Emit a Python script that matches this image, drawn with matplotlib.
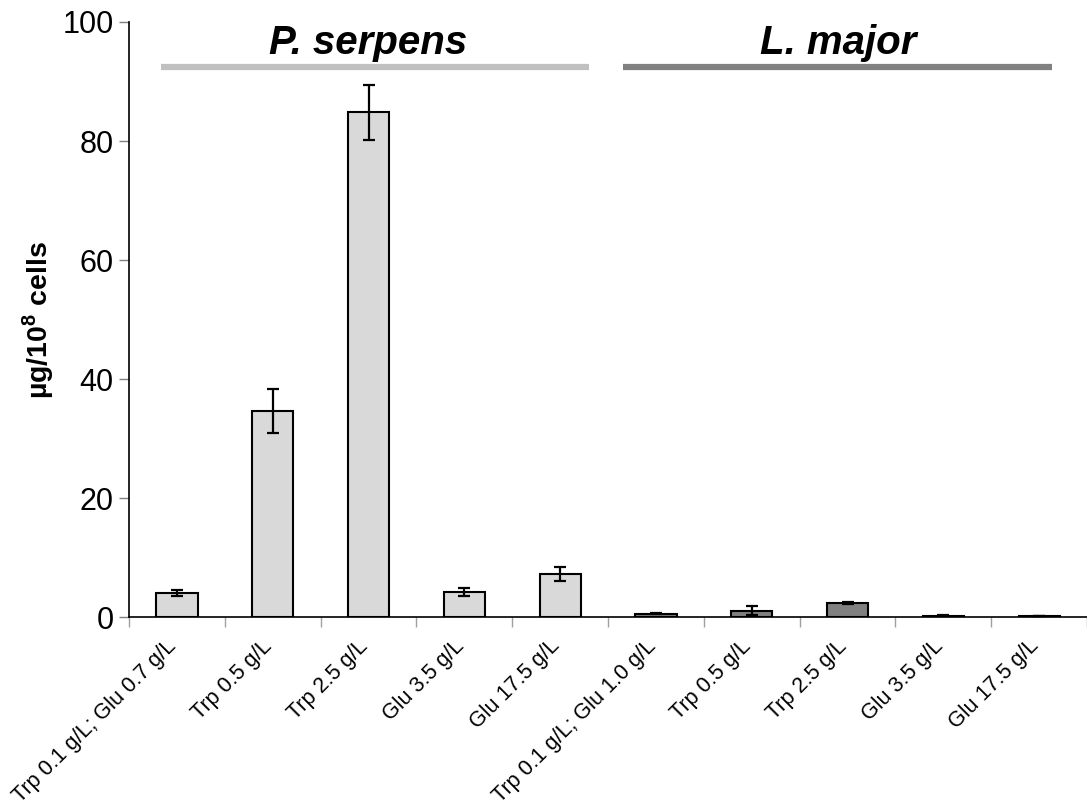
import matplotlib
matplotlib.use("Agg")
import matplotlib.pyplot as plt
import matplotlib.transforms as mtransforms
import numpy as np

plt.rcParams['font.family'] = ['Liberation Sans', 'DejaVu Sans']
plt.rcParams['mathtext.fontset'] = 'custom'
plt.rcParams['mathtext.rm'] = 'Liberation Sans'
plt.rcParams['mathtext.bf'] = 'Liberation Sans:bold'

# data
labels = ["Trp 0.1 g/L; Glu 0.7 g/L", "Trp 0.5 g/L", "Trp 2.5 g/L", "Glu 3.5 g/L", "Glu 17.5 g/L",
          "Trp 0.1 g/L; Glu 1.0 g/L", "Trp 0.5 g/L", "Trp 2.5 g/L", "Glu 3.5 g/L", "Glu 17.5 g/L"]
serpens_vals = [4.1, 34.6, 84.8, 4.3, 7.3]
serpens_err = [0.45, 3.7, 4.6, 0.7, 1.2]
major_vals = [0.6, 1.15, 2.45, 0.3, 0.25]
major_err = [0.1, 0.7, 0.15, 0.05, 0.05]
groups = ["P. serpens", "L. major"]

light = "#d9d9d9"
dark = "#808080"

fig = plt.figure(figsize=(10.87, 8.08), dpi=100)
ax = fig.add_axes([0.1187, 0.2358, 0.8813, 0.737])

x1 = np.arange(5)
x2 = np.arange(5, 10)
ekw = dict(elinewidth=1.6, capthick=1.6, ecolor="black")
ax.bar(x1, serpens_vals, width=0.43, color=light, edgecolor="black", linewidth=1.5,
       yerr=serpens_err, capsize=4.5, error_kw=ekw)
ax.bar(x2, major_vals, width=0.43, color=dark, edgecolor="black", linewidth=1.5,
       yerr=major_err, capsize=4.5, error_kw=ekw)

ax.set_xlim(-0.5, 9.5)
ax.set_ylim(0, 100)
ax.set_yticks([0, 20, 40, 60, 80, 100])
ax.tick_params(axis='y', labelsize=22, length=7, color="#808080", width=1, pad=4)

ax.set_xticks(np.arange(10))
ax.set_xticklabels(labels, rotation=45, ha='right', va='top', fontsize=15.5)
ax.tick_params(axis='x', which='major', length=0, pad=13)
shift = mtransforms.ScaledTranslation(4 / 100, 0, fig.dpi_scale_trans)
for lab in ax.get_xticklabels():
    lab.set_transform(lab.get_transform() + shift)
ax.set_xticks(np.arange(-0.5, 10, 1), minor=True)
ax.tick_params(axis='x', which='minor', length=7, color="#a0a0a0", width=1)

for s in ["top", "right"]:
    ax.spines[s].set_visible(False)
ax.spines["left"].set_linewidth(1.2)
ax.spines["bottom"].set_linewidth(1.2)

ax.set_ylabel(r"µg/10$^{\mathbf{8}}$ cells", fontsize=20.5, fontweight="bold", labelpad=5)

# group headers
ax.plot([-0.167, 4.30], [92.4, 92.4], color="#c0c0c0", lw=4.5, solid_capstyle="butt", clip_on=False)
ax.plot([4.656, 9.135], [92.4, 92.4], color=dark, lw=4.5, solid_capstyle="butt", clip_on=False)
ax.text(2.0, 96.4, groups[0], fontsize=29, fontweight="bold", style="italic",
        ha="center", va="center", clip_on=False)
ax.text(6.9, 96.4, groups[1], fontsize=29, fontweight="bold", style="italic",
        ha="center", va="center", clip_on=False)

fig.savefig("out.png", dpi=100)
